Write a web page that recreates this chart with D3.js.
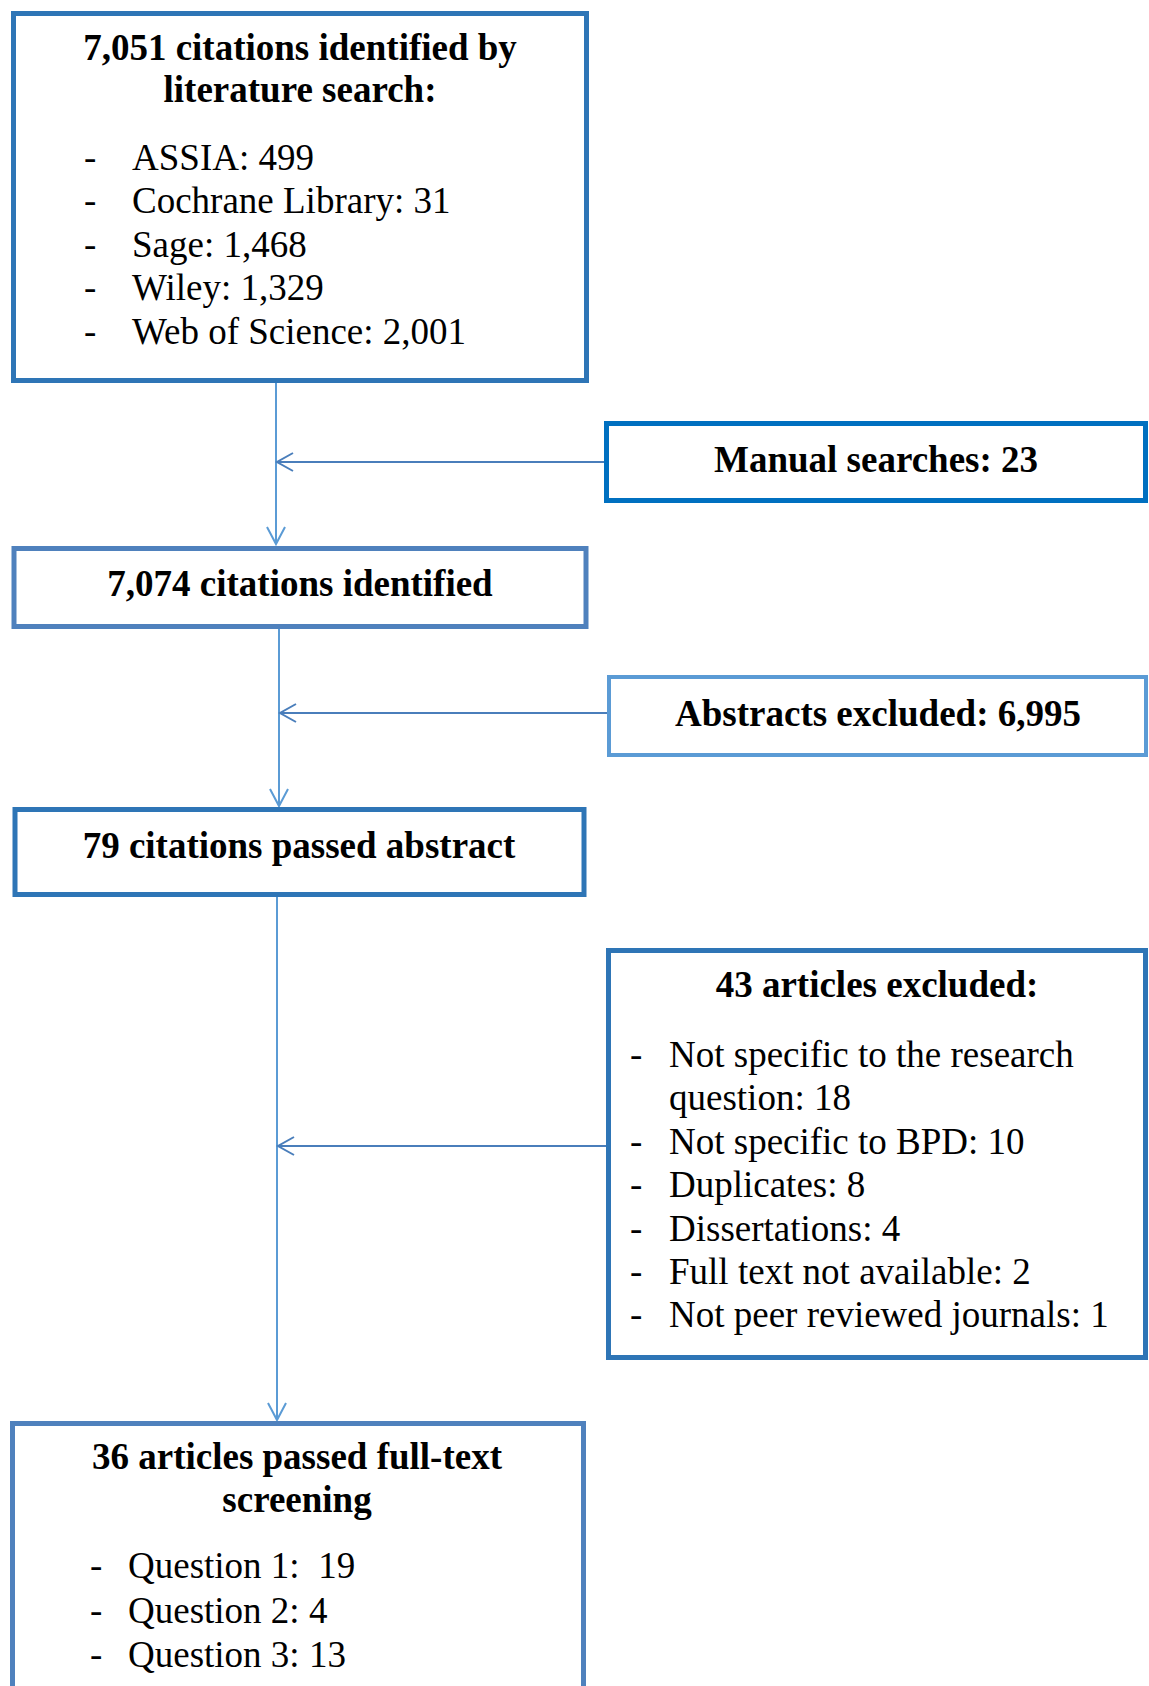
<!DOCTYPE html>
<html>
<head>
<meta charset="utf-8">
<script src="https://cdn.jsdelivr.net/npm/d3@7"></script>
<style>
  html, body { margin: 0; padding: 0; background: #fff; }
  svg { display: block; }
  text { font-family: "Liberation Serif", "Times New Roman", serif; fill: #000; }
</style>
</head>
<body>
<svg id="chart" width="1149" height="1686"></svg>
<script>
// ---------- data ----------
const totalSearch = 7051;
const searchSources = ["ASSIA", "Cochrane Library", "Sage", "Wiley", "Web of Science"];
const searchCounts = [499, 31, 1468, 1329, 2001];
const manualSearches = 23;
const totalIdentified = 7074;
const abstractsExcluded = 6995;
const passedAbstract = 79;
const excludedArticles = 43;
const exclusionReasons = [["Not specific to the research", "question"], ["Not specific to BPD"], ["Duplicates"], ["Dissertations"], ["Full text not available"], ["Not peer reviewed journals"]];
const exclusionCounts = [18, 10, 8, 4, 2, 1];
const passedFullText = 36;
const questionLabels = ["Question 1: ", "Question 2:", "Question 3:"];
const questionCounts = [19, 4, 13];

// ---------- drawing ----------
const fmt = d3.format(",");
const svg = d3.select("#chart");
const FS = 37;
const LH = 43.4;
const TY = 2; // baseline nudge

function box(x, y, w, h, color, sw) {
  svg.append("rect").attr("x", x).attr("y", y).attr("width", w).attr("height", h)
    .attr("fill", "#fff").attr("stroke", color).attr("stroke-width", sw);
}
function centerText(cx, y, str, bold) {
  svg.append("text").attr("x", cx).attr("y", y + TY).attr("text-anchor", "middle")
    .attr("font-size", FS).attr("font-weight", bold ? "bold" : "normal").text(str);
}
function listItem(dx, tx, y, str, dash) {
  if (dash) svg.append("text").attr("x", dx).attr("y", y + TY).attr("font-size", FS).text("-");
  svg.append("text").attr("x", tx).attr("y", y + TY).attr("font-size", FS)
    .attr("xml:space", "preserve").style("white-space", "pre").text(str);
}
function arrowHead(x, y, dir, color) {
  const p = d3.path();
  if (dir === "down") { p.moveTo(x - 9, y - 17); p.lineTo(x, y); p.lineTo(x + 9, y - 17); }
  else { p.moveTo(x + 16, y - 9); p.lineTo(x, y); p.lineTo(x + 16, y + 9); }
  svg.append("path").attr("d", p.toString()).attr("fill", "none").attr("stroke", color)
    .attr("stroke-width", 2);
}
function line(x1, y1, x2, y2, color) {
  svg.append("line").attr("x1", x1).attr("y1", y1).attr("x2", x2).attr("y2", y2)
    .attr("stroke", color).attr("stroke-width", 2);
}

const cVert = "#5B9BD5";
const cHorz = "#4A7EBB";

// connectors
line(276, 383, 276, 544, cVert); arrowHead(276, 544, "down", cVert);
line(604, 462, 277, 462, cHorz); arrowHead(277, 462, "left", cHorz);
line(279, 629, 279, 806, cVert); arrowHead(279, 806, "down", cVert);
line(607, 713, 280, 713, cHorz); arrowHead(280, 713, "left", cHorz);
line(277, 897, 277, 1420, cVert); arrowHead(277, 1420, "down", cVert);
line(606, 1146, 278, 1146, cHorz); arrowHead(278, 1146, "left", cHorz);

// Box 1
box(13.5, 13.5, 573, 367, "#2E75B6", 5);
centerText(300, 58, fmt(totalSearch) + " citations identified by", true);
centerText(300, 100, "literature search:", true);
searchSources.forEach((s, i) => listItem(84, 132, 168 + i * LH, s + ": " + fmt(searchCounts[i]), true));

// Manual searches
box(606.5, 423.5, 539, 77, "#0070C0", 5);
centerText(876, 470, "Manual searches: " + manualSearches, true);

// Box 2
box(14, 548.5, 572, 78, "#4F81BD", 5);
centerText(300, 594, fmt(totalIdentified) + " citations identified", true);

// Abstracts excluded
box(609, 677, 537, 78, "#5B9BD5", 4);
centerText(878, 724, "Abstracts excluded: " + fmt(abstractsExcluded), true);

// Box 3
box(15, 809.5, 569, 85, "#2E75B6", 5);
centerText(299, 856, passedAbstract + " citations passed abstract", true);

// 43 excluded
box(608.5, 950.5, 537, 407, "#2E75B6", 5);
centerText(877, 995, excludedArticles + " articles excluded:", true);
let yy = 1065;
exclusionReasons.forEach((lines, i) => {
  lines.forEach((ln, j) => {
    const last = j === lines.length - 1;
    listItem(630, 669, yy, last ? ln + ": " + exclusionCounts[i] : ln, j === 0);
    yy += LH;
  });
});

// Box 5
box(12.5, 1423.5, 571, 400, "#4F81BD", 5);
centerText(297, 1467, passedFullText + " articles passed full-text", true);
centerText(297, 1510, "screening", true);
questionLabels.forEach((q, i) => listItem(90, 128, 1576 + i * 44.6, q + " " + questionCounts[i], true));
</script>
</body>
</html>
